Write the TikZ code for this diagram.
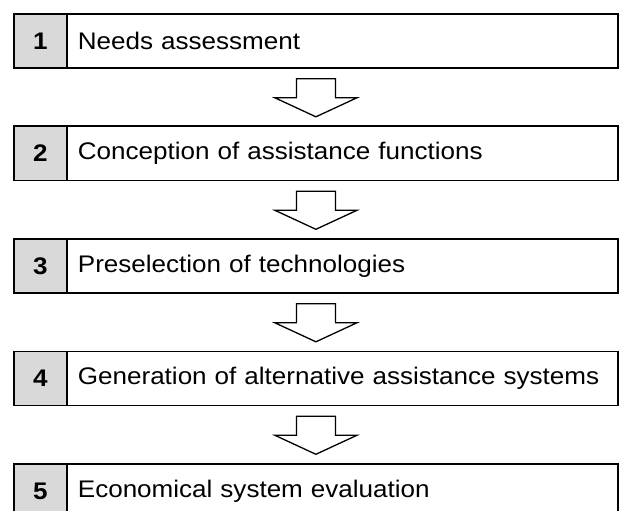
\documentclass[tikz,border=0pt]{standalone}
\usepackage{fontspec}
\setmainfont{Liberation Sans}[FakeStretch=1.085]
\usetikzlibrary{calc}
\definecolor{cellgray}{HTML}{D9D9D9}
\begin{document}
\begin{tikzpicture}[x=1pt,y=-1pt,
  numbox/.style={draw=black, line width=1.8pt, fill=cellgray, minimum width=53pt,
    minimum height=54pt, inner sep=0pt, anchor=north west,
    font=\fontsize{24}{24}\selectfont\bfseries},
  txtbox/.style={draw=black, line width=1.8pt, fill=white, minimum width=551pt,
    minimum height=54pt, inner xsep=11pt, inner ysep=0pt, text width=529pt,
    align=left, anchor=north west, font=\fontsize{24}{24}\selectfont},
  blockarrow/.style={draw=black, line width=1.3pt, fill=white, line join=miter}]
\useasboundingbox (0,0) rectangle (622,511);
\clip (0,0) rectangle (622,511);
\foreach \i/\txt [count=\k from 0] in {1/Needs assessment,
    2/Conception of assistance functions,
    3/Preselection of technologies,
    4/Generation of alternative assistance systems,
    5/Economical system evaluation}{
  \node[txtbox] (t\i) at (66,13+112.5*\k) {\txt};
  \node[numbox] (n\i) at (13,13+112.5*\k) {\i};
  \path (n\i.south west) -- (t\i.south east) coordinate[midway] (a\i);
}
\foreach \i in {1,2,3,4}{
  \draw[blockarrow] ($(a\i)+(-19.5,10)$) -- ($(a\i)+(-19.5,29)$) -- ($(a\i)+(-41,29)$)
    -- ($(a\i)+(0,48)$) -- ($(a\i)+(41,29)$) -- ($(a\i)+(19.5,29)$)
    -- ($(a\i)+(19.5,10)$) -- cycle;
}
\end{tikzpicture}
\end{document}
